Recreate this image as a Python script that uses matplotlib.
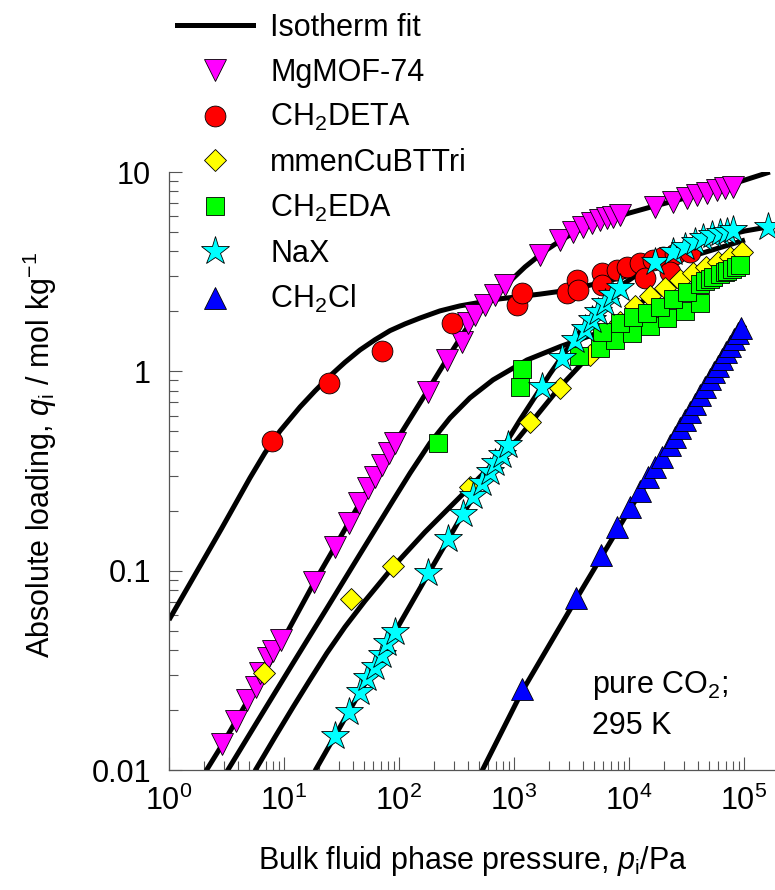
import matplotlib
matplotlib.use('Agg')
import matplotlib.pyplot as plt
from matplotlib.lines import Line2D
from matplotlib.ticker import FixedLocator, FixedFormatter, LogLocator, NullFormatter

plt.rcParams['font.family'] = ['Liberation Sans', 'DejaVu Sans']
plt.rcParams['mathtext.fontset'] = 'custom'
plt.rcParams['mathtext.rm'] = 'Liberation Sans'
plt.rcParams['mathtext.it'] = 'Liberation Sans:italic'
plt.rcParams['mathtext.bf'] = 'Liberation Sans:bold'

# ---------------- data ----------------
labels = ["MgMOF-74", "CH$_2$DETA", "mmenCuBTTri", "CH$_2$EDA", "NaX", "CH$_2$Cl"]

mg_p = [2.87, 3.83, 4.80, 5.67, 6.18, 7.22, 8.07, 9.36, 18.3, 27.8, 36.7, 45.2, 53.4, 61.8, 70.7,
        82.4, 92.3, 180, 264, 351, 401, 458, 560, 684, 835, 1683, 2512, 3280, 4010, 4740, 5600,
        6400, 7300, 8350, 16800, 24300, 31800, 38800, 47400, 57900, 68400, 80700]
mg_q = [0.0135, 0.0177, 0.0225, 0.0262, 0.0307, 0.0365, 0.0397, 0.0449, 0.0881, 0.131, 0.174,
        0.218, 0.259, 0.296, 0.339, 0.388, 0.436, 0.791, 1.14, 1.41, 1.74, 1.92, 2.15, 2.42, 2.71,
        3.84, 4.56, 5.02, 5.32, 5.53, 5.75, 5.86, 5.97, 6.09, 6.70, 7.11, 7.38, 7.68, 7.83, 8.13,
        8.29, 8.45]

de_p = [7.87, 24.6, 71.1, 289, 1055, 1167, 2870, 3550, 3620, 5790, 5790, 7820, 9550, 12500,
        16200, 19800, 25100, 33900, 13800, 22700]
de_q = [0.447, 0.875, 1.27, 1.75, 2.15, 2.46, 2.46, 2.88, 2.56, 3.11, 2.71, 3.23, 3.35, 3.49,
        3.62, 3.76, 3.88, 3.97, 2.94, 3.15]

mm_p = [6.74, 38.2, 89.2, 414, 1377, 2510, 4580, 6180, 8350, 11300, 15200, 20600, 27700, 36000,
        46800, 59500, 75600, 96200]
mm_q = [0.0306, 0.0719, 0.105, 0.263, 0.560, 0.826, 1.21, 1.44, 1.77, 2.13, 2.39, 2.62, 2.88,
        3.12, 3.34, 3.54, 3.75, 3.97]

eda_p = [218, 1128, 1175, 3700, 5600, 7550, 10600, 15200, 21400, 30700, 41400, 5820, 8350,
         10800, 14300, 18600, 24100, 31900, 41400, 45800, 50600, 53700, 61800, 68400, 71100,
         78700, 85200, 92300]
eda_q = [0.437, 0.835, 1.03, 1.19, 1.31, 1.44, 1.56, 1.69, 1.85, 2.01, 2.20, 1.58, 1.75, 1.87,
         1.96, 2.10, 2.31, 2.50, 2.75, 2.84, 2.91, 2.98, 3.08, 3.15, 3.19, 3.26, 3.34, 3.42]

nax_p = [27.8, 36.7, 45.8, 53.0, 61.8, 70.7, 79.1, 92.3, 180, 268, 357, 443, 524, 618, 683, 782,
         892, 1740, 2600, 3390, 4140, 4740, 5410, 6180, 7080, 8350, 16800, 24300, 30700, 37500,
         44300, 52400, 61800, 70700, 80700, 163000]
nax_q = [0.0148, 0.0196, 0.0245, 0.0289, 0.0330, 0.0378, 0.0432, 0.0494, 0.0970, 0.145, 0.192,
         0.237, 0.275, 0.314, 0.346, 0.381, 0.427, 0.838, 1.17, 1.44, 1.64, 1.81, 1.99, 2.20, 2.42,
         2.61, 3.52, 3.99, 4.22, 4.48, 4.65, 4.84, 4.93, 5.02, 5.12, 5.32]

cl_p = [1167, 3440, 5710, 7940, 10200, 12500, 14600, 16800, 19400, 22700, 25100, 27800, 30700,
        33900, 37500, 41400, 45800, 50600, 54800, 59400, 64400, 69700, 75500, 81800, 88700, 94200]
cl_q = [0.0254, 0.0730, 0.120, 0.166, 0.209, 0.251, 0.295, 0.331, 0.372, 0.427, 0.469, 0.517,
        0.570, 0.626, 0.686, 0.757, 0.835, 0.916, 0.993, 1.06, 1.15, 1.25, 1.34, 1.45, 1.56, 1.65]

# isotherm fit curves
fit_mg_p = [2.10, 2.89, 9.80, 18.2, 26.7, 45.8, 92.3, 179, 261, 375, 560, 835, 1247, 1860, 2510,
            3390, 4580, 6840, 10200, 16800, 28900, 52700, 96100, 168000]
fit_mg_q = [0.0099, 0.01334, 0.0449, 0.0867, 0.127, 0.219, 0.437, 0.807, 1.15, 1.60, 2.13, 2.68,
            3.34, 4.02, 4.51, 5.00, 5.43, 5.82, 6.24, 6.76, 7.33, 8.13, 9.02, 10.0]
fit_de_p = [1, 2.87, 5.06, 6.83, 9.23, 13.8, 18.6, 25.1, 33.9, 45.8, 61.8, 83.5, 113, 152, 227,
            339, 755, 1683, 3070, 8350, 27700, 102000]
fit_de_q = [0.0566, 0.163, 0.292, 0.390, 0.502, 0.663, 0.797, 0.948, 1.11, 1.28, 1.44, 1.60,
            1.73, 1.85, 2.01, 2.13, 2.31, 2.44, 2.56, 2.94, 3.62, 4.56]
fit_eda_p = [3.18, 6.18, 12.0, 23.5, 45.8, 89.2, 125, 186, 278, 414, 657, 1297, 2510, 8350,
             27700, 102000]
fit_eda_q = [0.0098, 0.0184, 0.0344, 0.0645, 0.121, 0.226, 0.309, 0.437, 0.584, 0.736, 0.906,
             1.14, 1.33, 1.71, 2.28, 3.50]
fit_mm_p = [5.59, 8.35, 12.0, 16.8, 23.6, 33.9, 50.6, 88.7, 168, 390, 1062, 2510, 4580, 11300,
            27700, 96200]
fit_mm_q = [0.0099, 0.01464, 0.0207, 0.0283, 0.0386, 0.0522, 0.0705, 0.1044, 0.156, 0.254,
            0.453, 0.835, 1.21, 2.13, 2.88, 3.97]
fit_nax_p = [18.6, 45.8, 92.3, 186, 339, 618, 1128, 2056, 3390, 5600, 9230, 16800, 30700, 56000,
             102000, 162000]
fit_nax_q = [0.0099, 0.0246, 0.0493, 0.0997, 0.1817, 0.324, 0.570, 0.971, 1.47, 2.10, 2.78,
             3.50, 4.11, 4.67, 5.06, 5.30]
fit_cl_p = [527, 1167, 3440, 10200, 22700, 41400, 102000]
fit_cl_q = [0.0099, 0.0246, 0.0713, 0.204, 0.418, 0.736, 1.71]

x_ticks = [1, 10, 100, 1000, 10000, 100000]
y_ticks = [0.01, 0.1, 1, 10]
y_ticklabels = ["0.01", "0.1", "1", "10"]

# ---------------- figure ----------------
W, H = 775, 890
fig = plt.figure(figsize=(W / 100, H / 100), dpi=100)
ax = fig.add_axes([169 / W, 1 - 770 / H, 609.6 / W, 598 / H])
ax.set_xscale('log')
ax.set_yscale('log')
ax.set_xlim(1, 2e5)
ax.set_ylim(0.01, 10)

FS = 22
lw_fit = 3.6
for fp, fq in [(fit_mg_p, fit_mg_q), (fit_de_p, fit_de_q), (fit_eda_p, fit_eda_q),
               (fit_mm_p, fit_mm_q), (fit_nax_p, fit_nax_q), (fit_cl_p, fit_cl_q)]:
    ax.plot(fp, fq, color='black', lw=lw_fit, solid_capstyle='butt', solid_joinstyle='round',
            zorder=2)

styles = [
    (mg_p, mg_q, 'v', '#FF00FF', 16),
    (de_p, de_q, 'o', '#FF0000', 15),
    (mm_p, mm_q, 'D', '#FFFF00', 11.5),
    (eda_p, eda_q, 's', '#00FF00', 13.5),
    (nax_p, nax_q, '*', '#00FFFF', 21),
    (cl_p, cl_q, '^', '#0000FF', 16),
]
handles = [Line2D([], [], color='black', lw=lw_fit)]
for i, (p, q, m, c, ms) in enumerate(styles):
    ax.plot(p, q, linestyle='none', marker=m, ms=ms, mfc=c, mec='black', mew=0.6,
            zorder=3 + i, clip_on=False)
    handles.append(Line2D([], [], linestyle='none', marker=m, ms=ms, mfc=c, mec='black',
                          mew=0.6))

for s in ['top', 'right']:
    ax.spines[s].set_visible(False)
for s in ['left', 'bottom']:
    ax.spines[s].set_color('#555555')
    ax.spines[s].set_linewidth(0.9)

ax.xaxis.set_major_locator(FixedLocator(x_ticks))
ax.xaxis.set_minor_locator(LogLocator(base=10, subs=range(2, 10), numticks=20))
ax.xaxis.set_minor_formatter(NullFormatter())
ax.yaxis.set_major_locator(FixedLocator(y_ticks))
ax.yaxis.set_major_formatter(FixedFormatter(y_ticklabels))
ax.yaxis.set_minor_locator(LogLocator(base=10, subs=range(2, 10), numticks=20))
ax.yaxis.set_minor_formatter(NullFormatter())
ax.tick_params(which='major', direction='in', length=9.5, width=0.8, color='#555555',
               labelsize=FS)
ax.tick_params(which='minor', direction='in', length=6.5, width=0.8, color='#555555')
ax.tick_params(axis='y', which='major', pad=13)
ax.tick_params(axis='x', which='major', pad=11)

fig.text(40 / W, 1 - 455 / H, r"Absolute loading, $q_\mathrm{i}$ / mol kg$^{-1}$",
         rotation=90, ha='center', va='center', fontsize=FS)
fig.text(473 / W, 1 - 861 / H, r"Bulk fluid phase pressure, $p_\mathrm{i}$/Pa",
         ha='center', va='center', fontsize=FS)

fig.text(592 / W, 1 - 685 / H, r"pure CO$_2$;", ha='left', va='center', fontsize=FS)
fig.text(592 / W, 1 - 726 / H, "295 K", ha='left', va='center', fontsize=FS)

fig.legend(handles, ["Isotherm fit"] + labels, loc='upper left',
           bbox_to_anchor=(177 / W, 1 - 13 / H), frameon=False, fontsize=FS,
           handlelength=2.5, handletextpad=0.55, labelspacing=0.48, borderpad=0,
           borderaxespad=0, numpoints=1)

fig.savefig('out.png', dpi=100)
